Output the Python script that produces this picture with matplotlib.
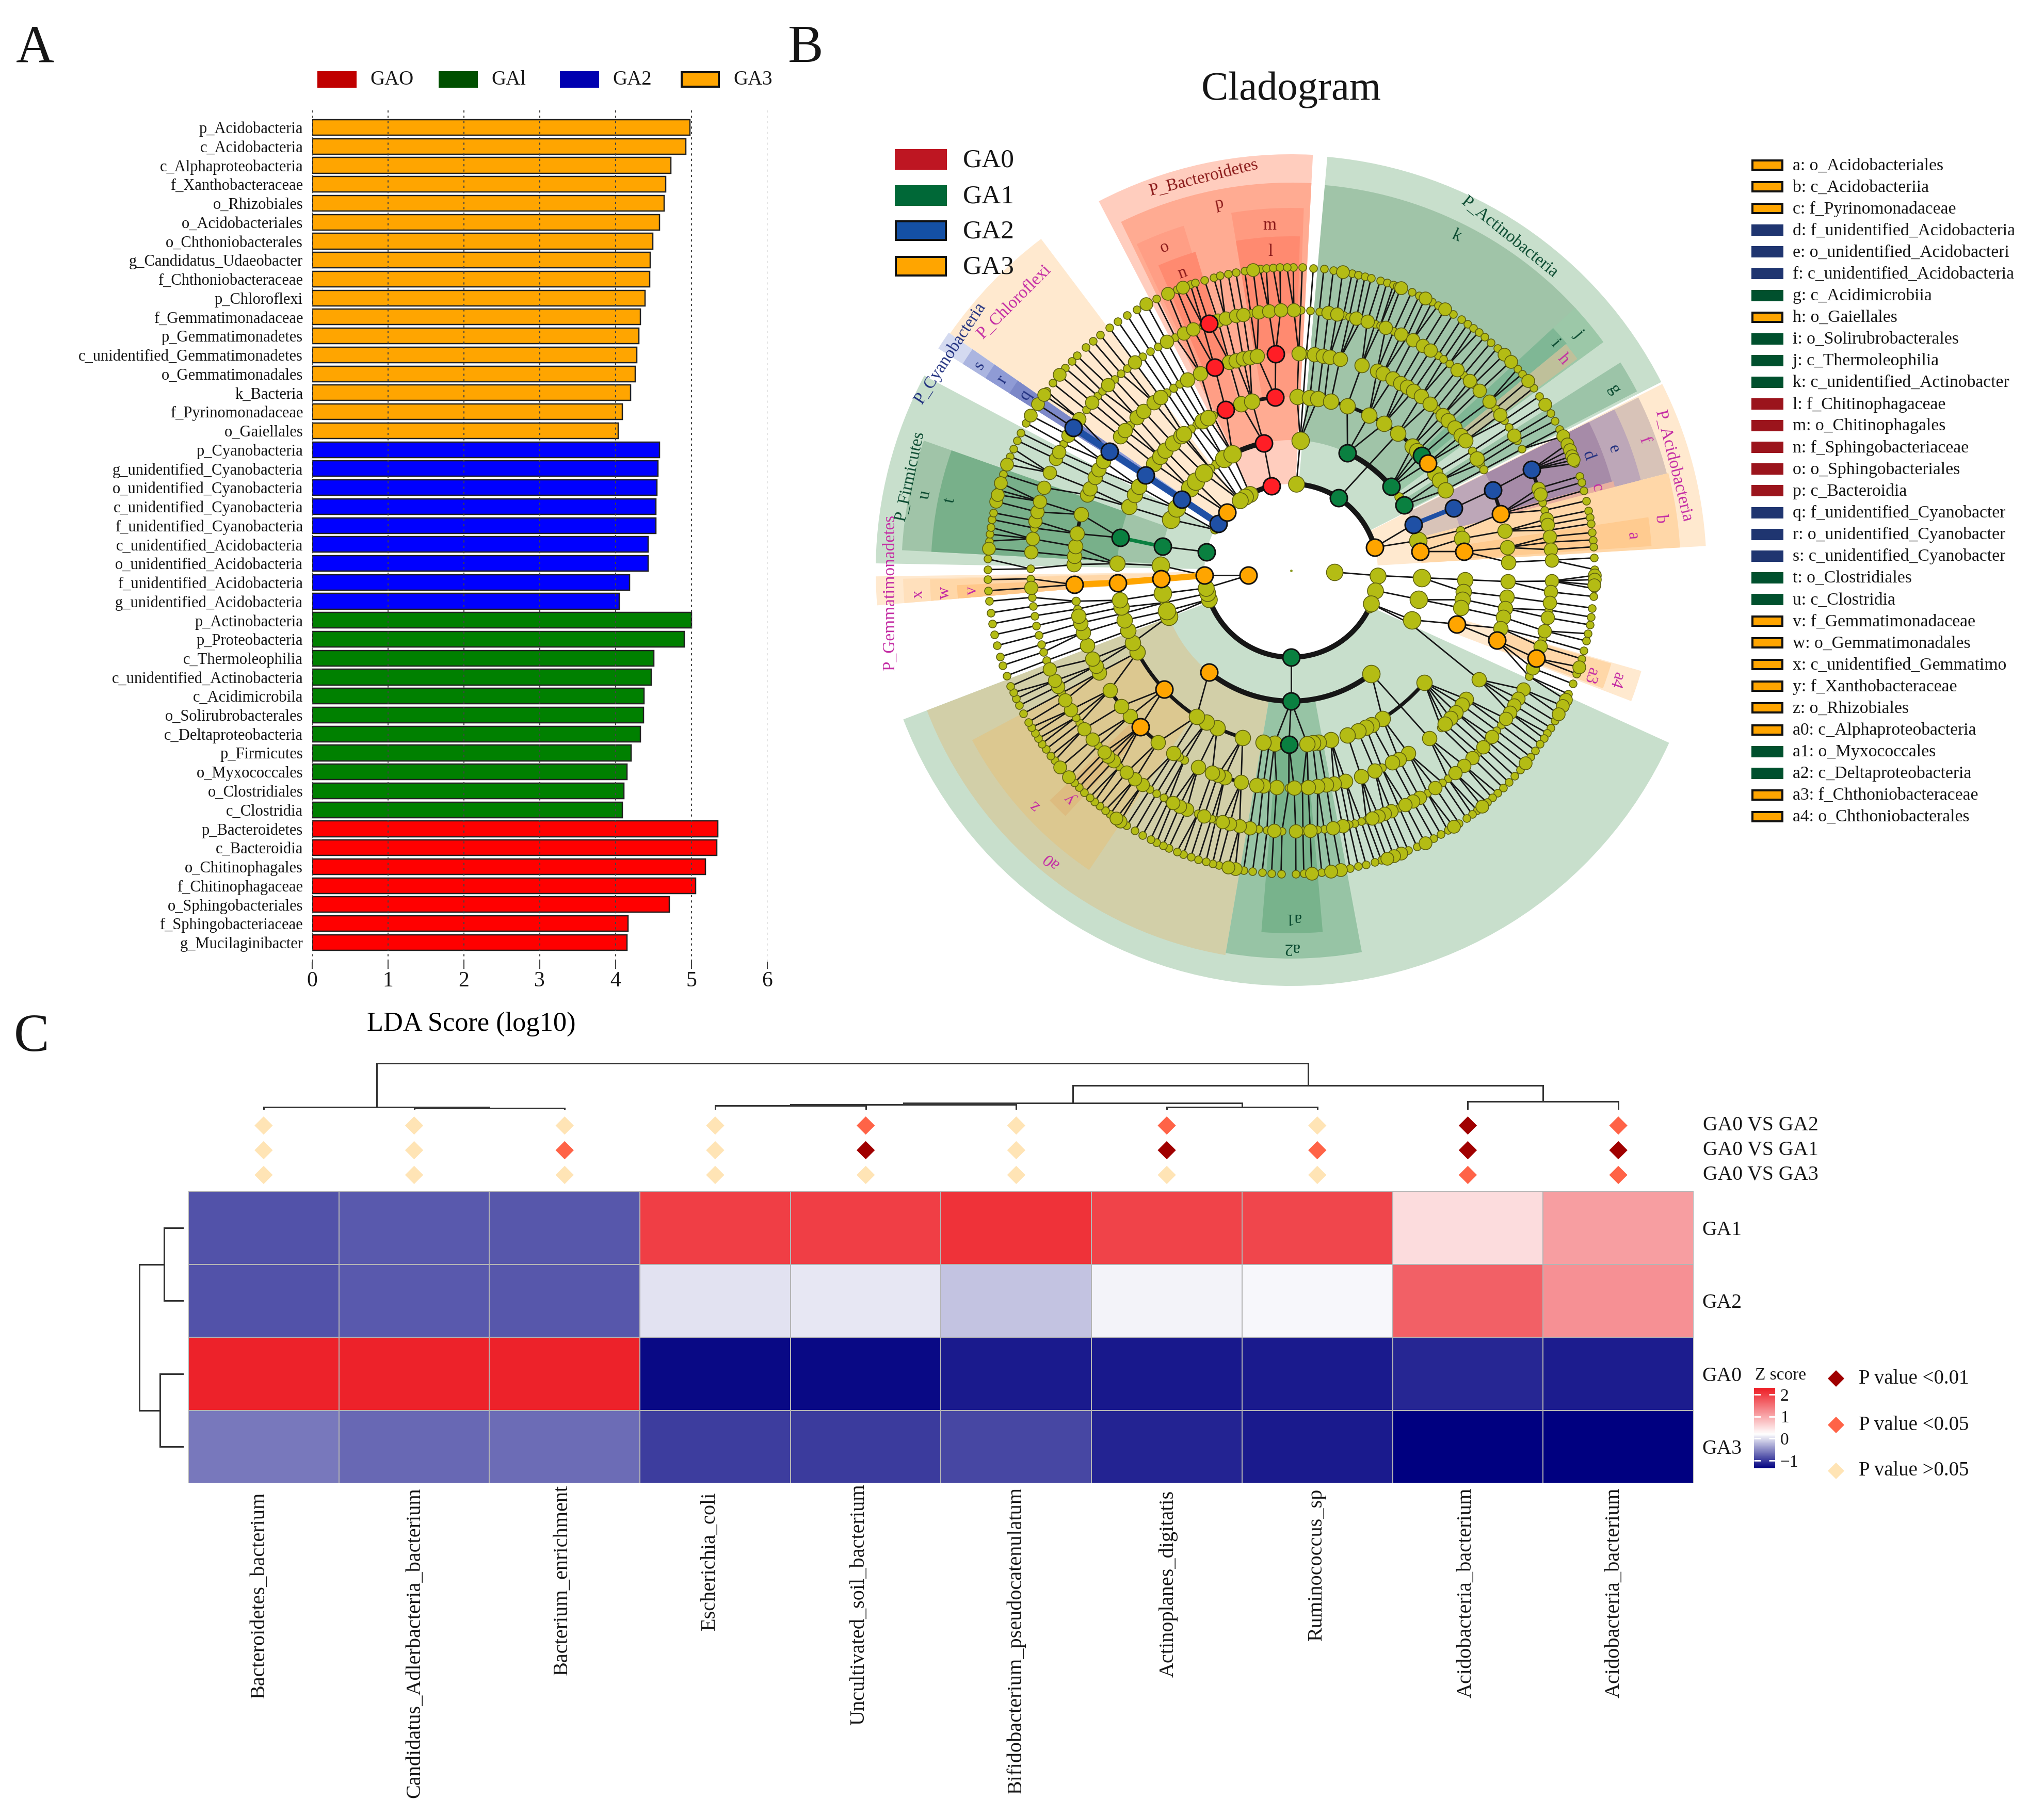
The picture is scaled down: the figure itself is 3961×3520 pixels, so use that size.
import numpy as np
import matplotlib
matplotlib.use('Agg')
import matplotlib.pyplot as plt
from matplotlib.colors import LinearSegmentedColormap
from matplotlib.patches import Rectangle, Wedge
from matplotlib.transforms import ScaledTranslation

plt.rcParams['font.family'] = ['Liberation Serif', 'DejaVu Serif']
plt.rcParams['text.color'] = '#161616'
plt.rcParams['xtick.color'] = '#161616'
plt.rcParams['ytick.color'] = '#161616'

W, H = 3962, 3520
PX = 0.72  # pixels to points at dpi 100

### Panel A data ###
ga3_taxa = ['p_Acidobacteria', 'c_Acidobacteria', 'c_Alphaproteobacteria', 'f_Xanthobacteraceae', 'o_Rhizobiales',
            'o_Acidobacteriales', 'o_Chthoniobacterales', 'g_Candidatus_Udaeobacter', 'f_Chthoniobacteraceae',
            'p_Chloroflexi', 'f_Gemmatimonadaceae', 'p_Gemmatimonadetes', 'c_unidentified_Gemmatimonadetes',
            'o_Gemmatimonadales', 'k_Bacteria', 'f_Pyrinomonadaceae', 'o_Gaiellales']
ga3_lda = [4.98, 4.93, 4.73, 4.66, 4.645, 4.58, 4.49, 4.46, 4.45, 4.39, 4.33, 4.31, 4.285, 4.26, 4.20, 4.09, 4.035]
ga2_taxa = ['p_Cyanobacteria', 'g_unidentified_Cyanobacteria', 'o_unidentified_Cyanobacteria',
            'c_unidentified_Cyanobacteria', 'f_unidentified_Cyanobacteria', 'c_unidentified_Acidobacteria',
            'o_unidentified_Acidobacteria', 'f_unidentified_Acidobacteria', 'g_unidentified_Acidobacteria']
ga2_lda = [4.58, 4.56, 4.55, 4.535, 4.535, 4.43, 4.43, 4.19, 4.05]
ga1_taxa = ['p_Actinobacteria', 'p_Proteobacteria', 'c_Thermoleophilia', 'c_unidentified_Actinobacteria',
            'c_Acidimicrobila', 'o_Solirubrobacterales', 'c_Deltaproteobacteria', 'p_Firmicutes', 'o_Myxococcales',
            'o_Clostridiales', 'c_Clostridia']
ga1_lda = [5.0, 4.91, 4.51, 4.47, 4.38, 4.37, 4.33, 4.21, 4.15, 4.11, 4.09]
ga0_taxa = ['p_Bacteroidetes', 'c_Bacteroidia', 'o_Chitinophagales', 'f_Chitinophagaceae', 'o_Sphingobacteriales',
            'f_Sphingobacteriaceae', 'g_Mucilaginibacter']
ga0_lda = [5.35, 5.34, 5.19, 5.06, 4.71, 4.17, 4.15]

### Panel B data: angles in degrees of the nodes on each ring ###
ring_radius = [84, 168, 253, 337, 421, 505, 588]

ring7_small = [89.6, 87.9, 85.8, 83.8, 82, 78.4, 77.2, 75.9, 74.7, 72.9, 71.6, 70.3, 69.6, 66.6, 65, 62.3, 61, 57.7,
               55.9, 54.4, 53.1, 51.8, 50.4, 48.8, 47.2, 41.7, 40.4, 37, 35.1, 31.2, 29.6, 27.8, 20.7, 18.1, 16.9,
               15.3, 13.3, 11.4, 10.1, 8.9, 7.2, 5.8, 4.5, 2.4, 0.2,
               -3.4, -4.9, -7.1, -8.8, -10.3, -12, -13.4, -15.3, -16.9, -19.9, -21.9, -24, -29.7, -31.2, -32.4,
               -33.6, -34.9, -36.4, -37.9, -41, -42.6, -44.2, -45.7, -47.2, -48.5, -49.8, -52.2, -53.4, -54.7,
               -56.4, -58.9, -60.4, -62, -65.5, -67.3, -72.7, -74, -75.7, -77.2, -78.8, -84.2, -87.6, -89.1,
               -91.9, -93.7, -95.5, -97.3, -99, -103.8, -105, -106.3, -107.8, -109.3, -110.8, -112.1, -113.8, -115,
               -116.3, -117.6, -119.3, -121, -122.8, -126.6, -127.8, -129.1, -130.4, -131.6, -133, -134.4, -135.6,
               -141.2, -142.4, -143.9, -145.2, -146.4, -147.6, -148.9, -150, -151.9, -153.6, -155, -156.3, -157.6,
               -159.7, -161.8, -163.5, -165.7, -167.8, -169.9, -172, -174.2, -176.2, -178.3,
               179.8, 177.8, 174.4, 173.1, 171.8, 170.3, 169, 164.6, 161.5, 157.9, 156.3, 154.6, 153, 150.9, 143.7,
               141.8, 138.1, 136.3, 134.9, 132.6, 130.8, 129, 126.8, 124.8, 122.7, 120.6, 116.4, 112.1, 109.4, 108.4,
               106.6, 104.8, 103.6, 102, 100.5, 98.8, 95.9, 94.7, 93.4, 92.1, 90.8]
ring7_big = [80.2, 68.8, 63.8, 59.5, 45.4, 43.6, 38.7, 33.2, 26.3, 24.6, 23.4, 22.2, 21.4,
             -0.9, -1.7, -2.7, -18.5, -25.2, -26.5, -28.2, -39.4, -51, -57.6, -63.8, -68.8, -70.2, -71.6, -80.6,
             -82.5, -86.1, -100.6, -102, -124.3, -125.2, -137.2, -139.6,
             175.8, 166.8, 165.5, 163.2, 159.5, 149.2, 146.7, 144.6, 139.8, 118.5, 114, 110.9, 97.2]

ring6_small = [87.9, 85.8, 83.8, 78.4, 77.1, 74.4, 71.2, 70, 66.8, 63.6, 55.7, 54.2, 52.6, 48.6, 45.6, 38.4, 35.2, 33.4,
               29.9, 27.8, 15.2, 13.4, 8.9, 6.3, -8.7, -15.2, -24,
               -36.3, -37.9, -41, -44.3, -53, -54.5, -58.5, -65.5, -73.2, -74.4, -75.9, -77.2, -82.7, -84.2, -87.4,
               -92, -95.3, -97.2, -106.8, -107.8, -111, -118, -119.3, -121.1, -122.8, -131.2, -137.8, -144.2, -145.7,
               -151.9, -159.8, -161.8, -163.5, -165.7, -167.8, -170, -172.1, -174.1, -178.2,
               179.6, 170.6, 150.9, 141.9, 137.9, 136.5, 132.7, 130.8, 129, 124.8, 122.7, 120.7, 116.4, 109.8, 98.9]
ring6_big = [89.4, 81.8, 79.9, 75.5, 73, 68.7, 65, 62.2, 59.7, 57.7, 50.4, 46.8, 43.7, 40.5, 36.7, 31.2, 18.4, 17,
             11.4, 10.1, 7.5, 4.6, 2.3, -2.3, -4.7, -7, -10.4, -13.4, -16.9, -22,
             -27.1, -29.4, -31.1, -33, -34.6, -39.6, -42.6, -45.9, -48.4, -51, -56.4, -60.5, -62.2, -64, -67.4, -69,
             -70.4, -71.9, -78.6, -80.8, -85.8, -89, -93.8, -99.1, -101.4, -103.6, -105.3, -109.5, -113.6, -115.3,
             -117, -124.8, -126.8, -129.2, -133, -134.6, -135.8, -139.6, -142.6, -147.7, -150.2, -153.6, -155, -157.8,
             -176.2, 175.9, 173, 169, 167, 164.6, 161.4, 157.9, 154.6, 152.9, 148.7, 144.4, 139.8, 134.6, 126.9,
             118.5, 114.3, 112.1, 106.3, 104.6, 102.2, 100.6, 97.2, 94.9, 92.3]

ring5_small = [86, 48.1, 33.4, 29.5, 27.7, -46.3, -65.3, -76.9, -87, -90.6, -95.8, -119.4, -121, -169.8, -171.9,
               122.8, 124.9, 137.9, 120.8]
ring5_big = [88, 83.8, 81.5, 79.8, 77, 71, 66.7, 65, 62.1, 59.7, 57.7, 55.8, 53.3, 50.2, 45.7, 43.7, 41.2, 38.5, 36.7,
             31.1, 10.5, 6.1, 2.2, -2.9, -6.9, -10, -12.4, -15.4, -30.1, -36.3, -38.2, -40.7, -42.8, -44.9, -50.5,
             -57.3, -60.3, -62.2, -67.3, -71.2, -75.5, -78.6, -80.7, -83, -85.5, -89.2, -93.8, -97.4, -99.1, -103.3,
             -107.8, -109.7, -111.3, -115.3, -122.8, -127.8, -137.9, -141.4, -146.6, -152, -154, -156, -159.8,
             -163.4, -166, -167.9, 178.4, 176.2, 173.6, 170.2, 165, 159.6, 157.8, 154.6, 152.3, 149.8, 141.8, 139.8,
             135.2, 132.8, 129.2, 127, 118.5, 114.7, 106.5, 104.7, 102.7, 101, 99]

ring4_small = [79, 86, -165.7, 116.7, 122.9, 125.2, 13.4, -97.2]
ring4_big = [88, 83.8, 81.2, 76.8, 71.2, 63.4, 57.7, 52.1, 45.7, 43.5, 34, 31.2, 27.6, 10.6, -3, -7, -9.5, -12.4,
             -40, -58.3, -62.4, -64.5, -67.4, -71.1, -76.8, -81, -82.9, -84.7, -95.5, -99.3, -106.2, -115.2, -119.2,
             -122.9, -152, -155.5, -159.8, -163.4, -167.8, -170.2, 177.7, 158.5, 154.2, 151.1, 142, 139, 136.3,
             132.8, 129.2, 128.2, 120.6, 118.6, 106.7, 103]

ring3_small = [34.5, -24, -165.8, 125.3, 128.4]
ring3_big = [86, 13.3, -3.1, -12.7, -22.2, -52.1, -159.5, -162, -169.9, 177.8, 157, 151.4, 140.9, 137, 131.8, 120.9,
             116.7]

ring2_small = [151.7, -25.6]
ring2_big = [86.5, -3.3, -13.3, -22.5, -160.7, -164.7, -168.4, 118.3, 121.8, 126]

ring1_big = [-2]

# ring number and angle of the nodes enriched in one group
red_rings, red_angles = [2, 3, 4, 4, 5, 5, 6], [102.9, 102.2, 95.2, 112.1, 94.1, 110.6, 108.4]
green_rings = [2, 3, 4, 2, 3, 3, 3, 4, 3, 2, 4]
green_angles = [-90, -90, -90.7, 56.8, 64.4, 40, 30.2, 41.4, 169.4, 167.5, 169.1]
blue_rings = [2, 3, 4, 5, 6, 3, 4, 5, 6]
blue_angles = [147.2, 146.9, 146.8, 146.7, 146.7, 20.7, 21, 21.8, 22.8]
orange_rings = [1, 2, 3, 4, 5, 2, 2, 3, 4, 5, 3, 4, 5, 5, 4, 6, 4]
orange_angles = [-173.6, -176.8, -176.3, -176, -176.3, 137.8, 15.5, 8.4, 6.3, 15.2, -129, -137, -134, -18.7, -17.9,
                 -19.7, 38.2]

# thick arcs along a ring
arc_rings = [2, 2, 2, 3, 3, 3, 4, 4, 4, 4, 4, 5, 5, 5, 5, 5, 6]
arc_from = [-160.7, 15.5, 102.9, -129, 40, 102.2, -152, -115.2, 45.7, 95.2, -58.3, -134, -146.6, -107.8, 165, 15.2, 18.4]
arc_to = [-22.5, 86.5, 118.3, -52.1, 64.4, 116.7, -122.9, -106.2, 76.8, 103, -42, -127.8, -137.9, -103.3, 170.2, 21.8, 22.8]

# phylum wedges
sector_from = [27, 87, 127, 145.2, 152, 180.8, 201, 3.4, -21]
sector_to = [85, 117.5, 145.2, 147.8, 179, 184.8, 335.5, 26.7, -16]
sector_inner = [168, 168, 168, 168, 168, 168, 168, 168, 337]
sector_outer = [805, 807, 805, 808, 805, 805, 805, 805, 706]
sector_color = ['#C8DFCC', '#FFCDBE', '#FFE9CF', '#D4DAF0', '#C8DFCC', '#FFE9CF', '#C8DFCC', '#FFE9CF', '#FFE9CF']

# lower rank wedges, drawn on top of the phyla
clade_from = [42.5, 36.2, 39.5, 36.5, 27.4, 87, 88, 88.5, 107.3, 106.7, 145.2, 145.2, 145.2, 160.5, 160.5, 181.2, 181.4,
              182.5, 201, 208, 223.6, 260.3, 265.3, 14.5, 14.5, 14.5, 12.5, 3.4, 3.9, -20.7]
clade_to = [85, 42.8, 42.8, 39.5, 32.3, 116, 99.5, 99.5, 115.3, 113.5, 147.8, 147.8, 147.8, 177, 177, 184.8, 184.8,
            184.8, 260.3, 236, 227.4, 280.5, 275, 26.5, 26.5, 26.5, 15.5, 14.5, 8.5, -16.2]
clade_inner = [253, 253, 337, 421, 253, 253, 337, 421, 337, 421, 253, 337, 421, 253, 337, 253, 337, 421, 253, 337, 421,
               253, 337, 253, 337, 421, 421, 253, 337, 421]
clade_outer = [750, 750, 692, 690, 755, 752, 703, 648, 700, 645, 752, 700, 645, 755, 698, 752, 700, 648, 756, 700, 646,
               752, 703, 752, 700, 645, 648, 755, 700, 646]
clade_color = ['#A0C4A8', '#9CC8A8', '#7FB795', '#BFC09A', '#9CC4A8', '#FFAB92', '#FF9A80', '#FF8A70', '#FF9E85', '#FF8A70',
               '#ABB5E0', '#8F9BD5', '#7C88C8', '#A0C4A8', '#78B08A', '#FFE0BC', '#FFD7A8', '#FFC88A', '#D2CFA8', '#DCC890',
               '#DDBC80', '#97C4A5', '#78B38C', '#D8C3B8', '#BDA7B8', '#A68BA8', '#E8B0A0', '#FFD7A8', '#FFCB90', '#FFD7A8']

clade_text = ['P_Bacteroidetes', 'p', 'm', 'l', 'o', 'n', 'P_Actinobacteria', 'k', 'j', 'i', 'h', 'g', 'P_Acidobacteria',
              'f', 'e', 'd', 'c', 'b', 'a', 'a4', 'a3', 'a0', 'z', 'y', 'a1', 'a2', 'P_Gemmatimonadetes', 'x', 'w', 'v',
              'P_Firmicutes', 'u', 't', 'P_Cyanobacteria', 's', 'r', 'q', 'P_Chloroflexi']
text_x = [-170, -140, -42, -40, -245, -211, 423, 320, 558, 512, 527, 626, 741, 685, 625, 575, 593, 716, 662, 631, 581,
          -465, -497, -428, 3, 0, -777, -723, -671, -618, -739, -710, -661, -661, -604, -560, -514, -537]
text_y = [761, 711, 669, 618, 627, 577, 647, 649, 459, 441, 410, 351, 203, 253, 236, 223, 161, 100, 67, -213, -204,
          -562, -456, -442, -673, -731, -43, -46, -43, -39, 183, 147, 136, 421, 398, 370, 340, 521]
text_rot = [14, 12, 0, 0, 20, 20, -39, -25, -50, -50, -50, -58, -76, -70, -70, -70, -75, -85, -85, -109, -109, 140, 140,
            135, 180, 180, 90, 90, 90, 90, 78, 78, 78, 57, 58, 58, 57, 45]
text_tone = ['r', 'r', 'r', 'r', 'r', 'r', 'g', 'g', 'g', 'g', 'm', 'g', 'm', 'm', 'n', 'n', 'm', 'm', 'm', 'm', 'm', 'm',
             'm', 'm', 'g', 'g', 'm', 'm', 'm', 'm', 'g', 'g', 'g', 'n', 'n', 'n', 'n', 'm']

legend_names = ['a: o_Acidobacteriales', 'b: c_Acidobacteriia', 'c: f_Pyrinomonadaceae', 'd: f_unidentified_Acidobacteria',
                'e: o_unidentified_Acidobacteri', 'f: c_unidentified_Acidobacteria', 'g: c_Acidimicrobiia', 'h: o_Gaiellales',
                'i: o_Solirubrobacterales', 'j: c_Thermoleophilia', 'k: c_unidentified_Actinobacter', 'l: f_Chitinophagaceae',
                'm: o_Chitinophagales', 'n: f_Sphingobacteriaceae', 'o: o_Sphingobacteriales', 'p: c_Bacteroidia',
                'q: f_unidentified_Cyanobacter', 'r: o_unidentified_Cyanobacter', 's: c_unidentified_Cyanobacter',
                't: o_Clostridiales', 'u: c_Clostridia', 'v: f_Gemmatimonadaceae', 'w: o_Gemmatimonadales',
                'x: c_unidentified_Gemmatimo', 'y: f_Xanthobacteraceae', 'z: o_Rhizobiales', 'a0: c_Alphaproteobacteria',
                'a1: o_Myxococcales', 'a2: c_Deltaproteobacteria', 'a3: f_Chthoniobacteraceae', 'a4: o_Chthoniobacterales']
legend_groups = [3, 3, 3, 2, 2, 2, 1, 3, 1, 1, 1, 0, 0, 0, 0, 0, 2, 2, 2, 1, 1, 3, 3, 3, 3, 3, 3, 1, 1, 3, 3]

### Panel C data ###
species = ['Bacteroidetes_bacterium', 'Candidatus_Adlerbacteria_bacterium', 'Bacterium_enrichment', 'Escherichia_coli',
           'Uncultivated_soil_bacterium', 'Bifidobacterium_pseudocatenulatum', 'Actinoplanes_digitatis',
           'Ruminococcus_sp', 'Acidobacteria_bacterium', 'Acidobacteria_bacterium']
heat_rows = ['GA1', 'GA2', 'GA0', 'GA3']
ga1_z = [-0.85, -0.80, -0.81, 1.98, 1.98, 2.10, 1.93, 1.91, 0.52, 1.10]
ga2_z = [-0.85, -0.80, -0.81, 0.02, 0.06, -0.16, 0.12, 0.16, 1.67, 1.23]
ga0_z = [2.24, 2.24, 2.24, -1.29, -1.29, -1.19, -1.20, -1.18, -1.11, -1.17]
ga3_z = [-0.62, -0.71, -0.68, -0.97, -0.985, -0.92, -1.13, -1.18, -1.35, -1.35]

# 0: p > 0.05, 1: p < 0.05, 2: p < 0.01
vs_ga2 = [0, 0, 0, 0, 1, 0, 1, 0, 2, 1]
vs_ga1 = [0, 0, 1, 0, 2, 0, 2, 1, 2, 2]
vs_ga3 = [0, 0, 0, 0, 0, 0, 0, 0, 1, 1]
p_colors = ['#FFE4B5', '#FF6347', '#A00000']
p_labels = ['P value <0.01', 'P value <0.05', 'P value >0.05']

# linkage style: two node ids and the merge position, in heatmap cell units
col_merges = [(1, 2, -1.137), (0, 10, -1.151), (3, 4, -1.172), (12, 5, -1.186), (6, 7, -1.151), (13, 14, -1.208),
              (8, 9, -1.229), (15, 16, -1.451), (11, 17, -1.752)]
row_merges = [(0, 1, -0.162), (2, 3, -0.188), (4, 5, -0.325)]

# small sideways and downward shifts of the column labels, in pixels
label_dx = [-8, 1, -5, -11, -13, 0, 3, -1, -3, -8]
label_dy = [8, 0, -5, 8, -7, -1, 5, 1, 0, 0]


def px_axes(x0, y0, x1, y1):
    return fig.add_axes([x0 / W, 1 - y1 / H, (x1 - x0) / W, (y1 - y0) / H])


def polar(ring, angle):
    r = ring_radius[ring - 1]
    return r * np.cos(np.radians(angle)), r * np.sin(np.radians(angle))


def draw_tree(ax, tips, tip_level, merges, horizontal):
    nodes = [(t, tip_level) for t in tips]
    for a, b, level in merges:
        xa, ya = nodes[a]
        xb, yb = nodes[b]
        xs, ys = [xa, xa, xb, xb], [ya, level, level, yb]
        if horizontal:
            ax.plot(xs, ys, color='#333333', lw=3 * PX, clip_on=False, solid_joinstyle='miter')
        else:
            ax.plot(ys, xs, color='#333333', lw=3 * PX, clip_on=False, solid_joinstyle='miter')
        nodes.append(((xa + xb) / 2, level))


fig = plt.figure(figsize=(W / 100, H / 100), dpi=100, facecolor='white')

# overlay in image pixels, used for the free text and the legends
over = fig.add_axes([0, 0, 1, 1], zorder=5)
over.set_xlim(0, W)
over.set_ylim(H, 0)
over.axis('off')

for letter, x, y in [('A', 68, 95), ('B', 1561, 95), ('C', 61, 2012)]:
    over.text(x, y, letter, fontsize=74, ha='center', va='center')
over.text(2502, 174, 'Cladogram', fontsize=56.5, ha='center', va='center')


### Panel A ###
ax = px_axes(604.5, 212, 1486.5, 1864)
taxa = ga3_taxa + ga2_taxa + ga1_taxa + ga0_taxa
lda = ga3_lda + ga2_lda + ga1_lda + ga0_lda
bar_colors = ['#FFA500'] * len(ga3_lda) + ['#0000FF'] * len(ga2_lda) + ['#008000'] * len(ga1_lda) + ['#FF0000'] * len(ga0_lda)
ax.barh(range(len(lda)), lda, height=0.82, color=bar_colors, edgecolor='#222222', linewidth=2.5 * PX)
ax.set_xlim(0, 6)
ax.set_ylim(44.01, -0.953)
ax.set_yticks(range(len(lda)), taxa, fontsize=22)
ax.set_xticks(range(7))
ax.tick_params(axis='y', length=0, pad=12.5)
ax.tick_params(axis='x', length=10, width=1.5, labelsize=30, color='#444444', pad=3)
ax.grid(axis='x', color='#444444', lw=1.5, linestyle=(0, (2, 3)))
ax.set_axisbelow(False)
for s in ax.spines.values():
    s.set_visible(False)
ax.set_xlabel('LDA Score (log10)', fontsize=37.7, labelpad=29, x=0.35)

for label, color, x0, edge in [('GAO', '#C00000', 617, None), ('GAl', '#005000', 852, None),
                               ('GA2', '#0000B0', 1087, None), ('GA3', '#FFA500', 1321, '#111111')]:
    over.add_patch(Rectangle((x0, 140), 72, 28, facecolor=color, edgecolor=edge or color, lw=4 * PX))
    over.text(x0 + 100, 154, label, fontsize=28, ha='left', va='center')


### Panel B ###
cx, cy, reach = 2502, 1106, 830
clad = px_axes(cx - reach, cy - reach, cx + reach, cy + reach)
clad.set_xlim(-reach, reach)
clad.set_ylim(-reach, reach)
clad.axis('off')

for t0, t1, r0, r1, c in zip(sector_from, sector_to, sector_inner, sector_outer, sector_color):
    clad.add_patch(Wedge((0, 0), r1, t0, t1, width=r1 - r0, facecolor=c, edgecolor='none', zorder=1))
for t0, t1, r0, r1, c in zip(clade_from, clade_to, clade_inner, clade_outer, clade_color):
    clad.add_patch(Wedge((0, 0), r1, t0, t1, width=r1 - r0, facecolor=c, edgecolor='none', zorder=1.5))

olive = {1: (ring1_big, []), 2: (ring2_big, ring2_small), 3: (ring3_big, ring3_small), 4: (ring4_big, ring4_small),
         5: (ring5_big, ring5_small), 6: (ring6_big, ring6_small), 7: (ring7_big, ring7_small)}
big_size = {1: 32, 2: 31, 3: 34, 4: 30, 5: 28, 6: 26, 7: 25}
small_size = {2: 17, 3: 17, 4: 16, 5: 16, 6: 15, 7: 15}

colored = {'#FF1E26': (red_rings, red_angles), '#0A8040': (green_rings, green_angles),
           '#1F50A5': (blue_rings, blue_angles), '#FFA500': (orange_rings, orange_angles)}
ring_angles = {k: np.array(v[0] + v[1], dtype=float) for k, v in olive.items()}
for rings, angles in colored.values():
    for ring, a in zip(rings, angles):
        ring_angles[ring] = np.append(ring_angles[ring], a)

# every node hangs from the closest node further in
for ring in range(7, 1, -1):
    for a in ring_angles[ring]:
        for inner in range(ring - 1, 0, -1):
            diff = (ring_angles[inner] - a + 180) % 360 - 180
            if np.abs(diff).min() < 7:
                pa = a + diff[np.abs(diff).argmin()]
                x0, y0 = polar(inner, pa)
                x1, y1 = polar(ring, a)
                clad.plot([x0, x1], [y0, y1], color='#161616', lw=2.8 * PX, zorder=2, solid_capstyle='butt')
                break

for ring, t0, t1 in zip(arc_rings, arc_from, arc_to):
    t = np.radians(np.linspace(t0, t1, 120))
    r = ring_radius[ring - 1]
    clad.plot(r * np.cos(t), r * np.sin(t), color='#161616', lw=(10 if ring <= 3 else 7) * PX, zorder=2.2,
              solid_capstyle='butt')

for color, width, rings, angles in [('#1F50A5', 13, [2, 3, 4, 5, 6], [147.2, 146.9, 146.8, 146.7, 146.7]),
                                    ('#FFA500', 12, [2, 3, 4, 5], [-176.8, -176.3, -176, -176.3]),
                                    ('#0A8040', 7, [3, 4], [169.4, 169.1]),
                                    ('#1F50A5', 9, [3, 4], [20.7, 21])]:
    pts = [polar(ri, an) for ri, an in zip(rings, angles)]
    clad.plot([p[0] for p in pts], [p[1] for p in pts], color=color, lw=width * PX, zorder=2.4, solid_capstyle='butt')

for ring, (bigs, smalls) in olive.items():
    if smalls:
        x, y = polar(ring, np.array(smalls))
        clad.scatter(x, y, s=(small_size[ring] * PX) ** 2, color='#B4BC14', edgecolor='#5E6010', linewidth=1.6 * PX, zorder=3)
    x, y = polar(ring, np.array(bigs))
    clad.scatter(x, y, s=(big_size[ring] * PX) ** 2, color='#B4BC14', edgecolor='#5E6010', linewidth=1.6 * PX, zorder=3.1)
for color, (rings, angles) in colored.items():
    x, y = zip(*[polar(ri, an) for ri, an in zip(rings, angles)])
    clad.scatter(x, y, s=(33 * PX) ** 2, color=color, edgecolor='#111111', linewidth=3 * PX, zorder=4)
clad.scatter([0], [0], s=6, color='#8A9A20', zorder=4)

tone = {'r': '#8B1A1A', 'g': '#0A4A30', 'm': '#C42CA4', 'n': '#1F2F7F'}
for s, x, y, rot, c in zip(clade_text, text_x, text_y, text_rot, text_tone):
    clad.text(x, y, s, fontsize=24, color=tone[c], rotation=rot, rotation_mode='anchor', ha='center', va='center', zorder=5)

for label, color, y, edge in [('GA0', '#BE1622', 309, None), ('GA1', '#006837', 379, None),
                              ('GA2', '#1450A5', 447, '#111111'), ('GA3', '#FFA500', 516, '#111111')]:
    over.add_patch(Rectangle((1736, y - 18), 97, 36, facecolor=color, edgecolor=edge or color, lw=4 * PX))
    over.text(1866, y + 2, label, fontsize=37, ha='left', va='center')

side_colors = ['#9B141C', '#00502D', '#1F3570', '#FFA500']
for i, (name, g) in enumerate(zip(legend_names, legend_groups)):
    y = 320 + i * 42.1
    edge = '#111111' if g == 3 else side_colors[g]
    over.add_patch(Rectangle((3396, y - 9), 58, 18, facecolor=side_colors[g], edgecolor=edge, lw=4 * PX))
    over.text(3474, y + 1, name, fontsize=24.2, ha='left', va='center')


### Panel C ###
heat = px_axes(365, 2309, 3282, 2875)
cmap = LinearSegmentedColormap.from_list('zscore', [(0, '#000080'), (0.4247, '#FFFFFF'), (1, '#ED1C24')])
mesh = heat.pcolormesh(np.array([ga1_z, ga2_z, ga0_z, ga3_z]), cmap=cmap, vmin=-1.35, vmax=2.3, edgecolors='#B4B4B4',
                       linewidth=2 * PX)
heat.set_ylim(4, 0)
heat.set_xlim(0, 10)
col_centers = np.arange(10) + 0.5
row_centers = np.arange(4) + 0.5
heat.set_xticks(col_centers, species, rotation=90, fontsize=29, va='top', ha='center')
heat.yaxis.tick_right()
heat.set_yticks(row_centers, heat_rows, fontsize=28.5)
heat.tick_params(length=0)
heat.tick_params(axis='x', pad=6)
heat.tick_params(axis='y', pad=12)
for tick_label, dx, dy in zip(heat.get_xticklabels(), label_dx, label_dy):
    tick_label.set_transform(tick_label.get_transform() + ScaledTranslation(dx / 100, -dy / 100, fig.dpi_scale_trans))
for s in heat.spines.values():
    s.set_visible(False)

for level, label, flags in [(-0.90, 'GA0 VS GA2', vs_ga2), (-0.562, 'GA0 VS GA1', vs_ga1), (-0.223, 'GA0 VS GA3', vs_ga3)]:
    heat.scatter(col_centers, [level] * 10, marker='D', s=(25 * PX) ** 2, c=[p_colors[f] for f in flags], clip_on=False,
                 linewidths=0, zorder=3)
    heat.text(10.06, level, label, fontsize=28.5, ha='left', va='center')

draw_tree(heat, col_centers, -1.13, col_merges, True)
draw_tree(heat, row_centers, -0.038, row_merges, False)

# colour key
cax = px_axes(3399, 2690, 3440, 2846)
cbar = fig.colorbar(mesh, cax=cax, ticks=[-1, 0, 1, 2])
cbar.outline.set_visible(False)
cax.tick_params(direction='in', left=True, right=True, length=9, width=2, color='white', labelsize=24, pad=7,
                labelcolor='#161616')
over.text(3401, 2666, 'Z score', fontsize=24, ha='left', va='center')

for y, color, label in zip([2672, 2762, 2851], [p_colors[2], p_colors[1], p_colors[0]], p_labels):
    over.plot([3558], [y], marker='D', ms=22 * PX, color=color, mew=0)
    over.text(3602, y, label, fontsize=28, ha='left', va='center')

fig.savefig('out.png', dpi=100)
